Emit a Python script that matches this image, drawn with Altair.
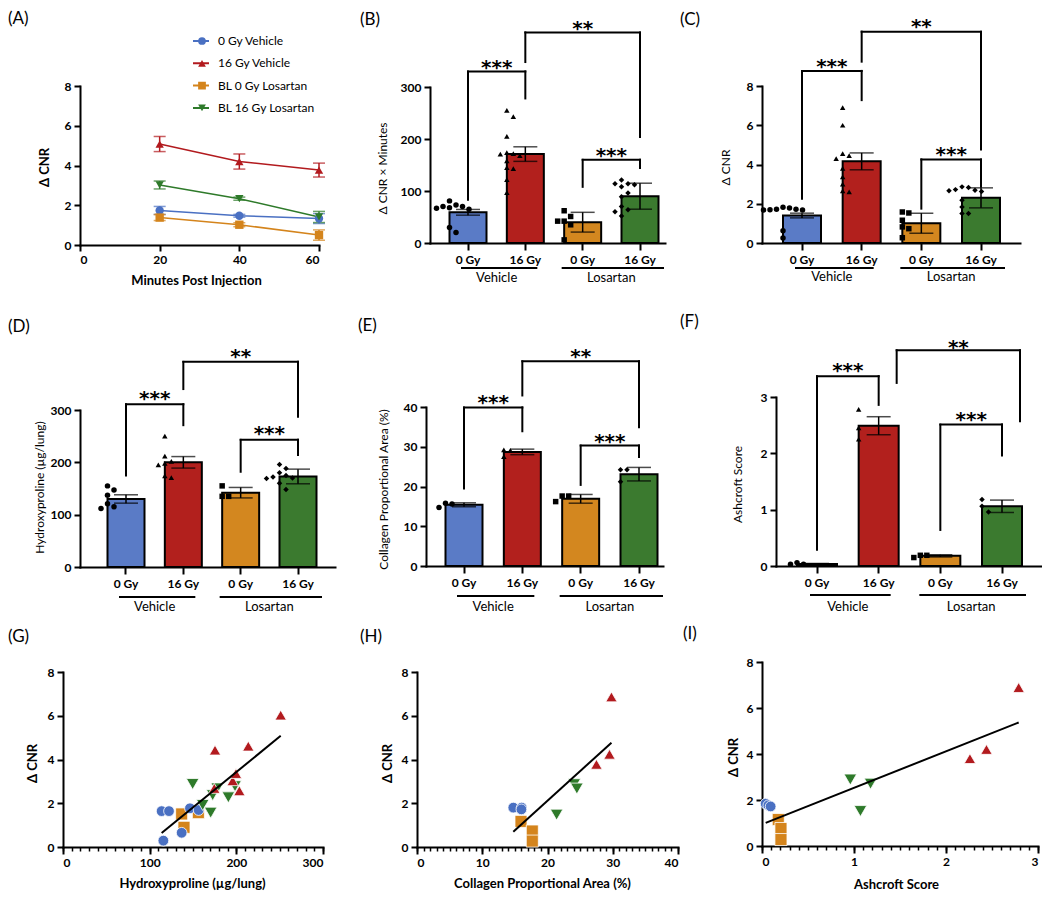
import altair as alt
import pandas as pd

FONT = "Lato"
STAR_FONT = "DejaVu Sans"

# ---------------- shared categories / styles ----------------
CATS = ["V0", "V16", "L0", "L16"]
TICK_LABELS = ["0 Gy", "16 Gy", "0 Gy", "16 Gy"]
GROUP_LABELS = ["Vehicle", "Losartan"]
BAR_COLORS = ["#5a7bc6", "#b2201d", "#d3871f", "#3b7a2f"]
BAR_SHAPES = ["circle", "triangle-up", "square", "diamond"]

SERIES = ["0 Gy Vehicle", "16 Gy Vehicle", "BL 0 Gy Losartan", "BL  16 Gy Losartan"]
SERIES_COLORS = ["#4a70c2", "#b21a1e", "#d4841c", "#2e7a2a"]
SERIES_SHAPES = ["circle", "triangle-up", "square", "triangle-down"]

# ---------------- (A) time course ----------------
A_MINUTES = [20, 40, 60]
A_V0 = [1.74, 1.47, 1.33]
A_V0_ERR = [0.20, 0.07, 0.25]
A_V16 = [5.08, 4.20, 3.77]
A_V16_ERR = [0.38, 0.38, 0.35]
A_L0 = [1.38, 1.02, 0.50]
A_L0_ERR = [0.15, 0.10, 0.26]
A_L16 = [3.02, 2.33, 1.41]
A_L16_ERR = [0.20, 0.08, 0.28]

# ---------------- (B) dCNR x minutes ----------------
B_MEANS = [59, 171, 40, 90]
B_ERR = [5.5, 14, 19, 25]
B_V0 = [81, 73, 70, 70, 68, 67, 65, 30, 20]
B_V16 = [255, 243, 205, 172, 171, 174, 168, 158, 143, 145, 122, 97]
B_L0 = [62, 51, 42, 42, 35, 6]
B_L16 = [121, 114, 114, 112, 108, 96, 89, 70, 64, 60, 52]

# ---------------- (C) dCNR ----------------
C_MEANS = [1.40, 4.16, 1.01, 2.30]
C_ERR = [0.12, 0.43, 0.51, 0.51]
C_V0 = [1.82, 1.72, 1.68, 1.68, 1.70, 1.78, 1.72, 0.62, 0.25]
C_V16 = [6.9, 6.0, 4.45, 4.56, 4.3, 3.8, 3.37, 3.0, 2.6, 2.65]
C_L0 = [1.53, 1.58, 1.16, 0.82, 0.73, 0.27]
C_L16 = [2.83, 2.66, 2.62, 2.69, 2.72, 2.86, 2.18, 1.84, 1.5, 1.5]

# ---------------- (D) hydroxyproline ----------------
D_MEANS = [130, 200, 142, 173]
D_ERR = [8, 11, 10, 14]
D_V0 = [155, 147, 137, 112, 121, 115]
D_V16 = [250, 212, 202, 195, 198, 171, 174]
D_L0 = [155, 135, 135]
D_L16 = [196, 188, 180, 175, 172, 170, 169, 160, 148]

# ---------------- (E) collagen area ----------------
E_MEANS = [15.4, 28.7, 16.9, 23.1]
E_ERR = [0.5, 0.7, 1.1, 1.7]
E_V0 = [14.7, 15.8, 15.6]
E_V16 = [29.2, 29.1, 27.5]
E_L0 = [17.6, 17.6, 16.2]
E_L16 = [24.2, 24.2, 21.2]

# ---------------- (F) Ashcroft ----------------
F_MEANS = [0.035, 2.49, 0.18, 1.06]
F_ERR = [0.01, 0.16, 0.02, 0.11]
F_V0 = [0.03, 0.06, 0.03]
F_V16 = [2.78, 2.45, 2.25]
F_L0 = [0.15, 0.19, 0.19]
F_L16 = [1.18, 1.06, 0.96]

# brackets: (left idx, right idx, top, left end, right end, text, text y, px shift)
B_BR = [(0, 1, 330, 83, 278, "***", 349, 0), (1, 3, 405, 348, 204, "**", 424, 0), (2, 3, 160, 108, 144, "***", 179, 0)]
C_BR = [(0, 1, 8.77, 2.26, 7.28, "***", 9.28, 0), (1, 3, 10.77, 9.24, 4.77, "**", 11.3, 0), (2, 3, 4.26, 1.75, 2.86, "***", 4.77, 0)]
D_BR = [(0, 1, 311, 175, 271, "***", 332, 0), (1, 3, 392, 340, 287, "**", 412, 0), (2, 3, 243, 182, 214, "***", 265, 0)]
E_BR = [(0, 1, 39.9, 19.5, 33.9, "***", 42.5, 0), (1, 3, 51.5, 42.9, 34.9, "**", 54.1, 0), (2, 3, 30.3, 20.4, 27.4, "***", 32.8, 0)]
F_BR = [(0, 1, 3.37, 0.29, 2.86, "***", 3.56, 0), (1, 3, 3.83, 3.25, 2.57, "**", 3.97, 18), (2, 3, 2.51, 0.64, 1.96, "***", 2.70, 0)]

# ---------------- (G) dCNR vs hydroxyproline ----------------
G_X = {"V0": [113.8, 122.3, 146.5, 156.5, 115.8, 136.9],
       "L0": [136.9, 139.6, 156.2],
       "L16": [149.6, 172.7, 178.0, 161.2, 170.4, 190.8, 198.5],
       "V16": [175.4, 174.6, 195.8, 199.6, 203.5, 213.8, 251.2]}
G_Y = {"V0": [1.64, 1.64, 1.77, 1.69, 0.29, 0.65],
       "L0": [1.51, 0.90, 1.57],
       "L16": [2.88, 2.37, 2.68, 1.92, 1.57, 2.27, 2.78],
       "V16": [4.43, 2.68, 3.03, 3.36, 2.57, 4.61, 6.03]}
# ---------------- (H) dCNR vs collagen area ----------------
H_X = {"V0": [14.76, 16.04, 16.0], "L0": [15.94, 17.67, 17.67],
       "L16": [21.4, 24.1, 24.5], "V16": [27.5, 29.5, 29.8]}
H_Y = {"V0": [1.80, 1.80, 1.72], "L0": [1.17, 0.73, 0.27],
       "L16": [1.48, 2.87, 2.67], "V16": [3.78, 4.24, 6.86]}
# ---------------- (I) dCNR vs Ashcroft ----------------
I_X = {"V0": [0.04, 0.069, 0.094], "L0": [0.177, 0.206, 0.206],
       "L16": [0.96, 1.18, 1.07], "V16": [2.26, 2.44, 2.79]}
I_Y = {"V0": [1.84, 1.77, 1.72], "L0": [1.15, 0.76, 0.28],
       "L16": [2.89, 2.71, 1.52], "V16": [3.80, 4.20, 6.89]}

ONE = pd.DataFrame({"k": [0]})

# page-space grid of cells (left, right) / (top, bottom)
COLS = [(8, 350), (350, 672), (672, 1042)]
ROWS = [(8, 300), (300, 618), (618, 890)]


def cell(r, c):
    return (COLS[c][0], ROWS[r][0], COLS[c][1], ROWS[r][1])


def label_layer(cl, ct, label, xy):
    return alt.Chart(ONE).mark_text(text=label, align="left", baseline="top", font=FONT,
                                    fontSize=17, color="black").encode(
        x=alt.value(xy[0] - cl), y=alt.value(xy[1] - ct))


def swarm(values, ppu, diam=6.5, step=6.5):
    offs = [0.0] * len(values)
    placed = []
    cands = [0.0]
    for j in range(1, 30):
        cands += [j * step, -j * step]
    for i in sorted(range(len(values)), key=lambda k: -values[k]):
        yp = values[i] * ppu
        for c in cands:
            if all((c - px) ** 2 + (yp - py) ** 2 >= diam ** 2 - 1e-9 for px, py in placed):
                offs[i] = c
                placed.append((c, yp))
                break
    return offs


def bar_panel(c):
    CL, CT, CR, CB = c["cell"]
    L, R, PT, PB = c["L"], c["R"], c["PT"], c["PB"]
    H = PB - PT
    cen, bw = c["centers"], c["bw"]
    step = (cen[-1] - cen[0]) / 3.0
    left = cen[0] - bw / 2 - L
    right = R - (cen[-1] + bw / 2)
    xscale = alt.Scale(domain=CATS, range=[L - CL, R - CL], paddingInner=1 - bw / step,
                       paddingOuter=(left + right) / (2 * step), align=left / (left + right))
    label_expr = " : ".join(f"datum.value == '{k}' ? '{t}'" for k, t in zip(CATS, TICK_LABELS)) + " : ''"
    xaxis = alt.Axis(title=None, labelExpr=label_expr, labelAngle=0, tickSize=7, labelPadding=4,
                     labelFontSize=12, labelFontWeight="bold", offset=-(CB - PB))

    def X(f, **kw):
        return alt.X(f"{f}:N", scale=xscale, axis=xaxis, **kw)

    ymax = c["ymax"]
    yticks = [i * c["ystep"] for i in range(int(round(ymax / c["ystep"])) + 1)]
    yscale = alt.Scale(domain=[0, ymax], range=[PB - CT, PT - CT], nice=False)
    tx, ty = c["ytitle_c"]
    yaxis = alt.Axis(values=yticks, title=c["ytitle"], titleX=tx - L, titleY=ty - CT, titleAngle=-90,
                     titleAlign="center", titleBaseline="middle", titleFontWeight="normal",
                     titleFontSize=12, tickSize=6, labelPadding=3, offset=-(L - CL))

    def Y(f):
        return alt.Y(f"{f}:Q", scale=yscale, axis=yaxis)

    means, errs = c["means"], c["errs"]
    bdf = pd.DataFrame({"cat": CATS, "y": means,
                        "lo": [m - e for m, e in zip(means, errs)],
                        "hi": [m + e for m, e in zip(means, errs)]})
    layers = [label_layer(CL, CT, c["label"], c["label_xy"])]
    layers.append(alt.Chart(bdf).mark_bar(stroke="black", strokeWidth=2).encode(
        x=X("cat"), y=Y("y"),
        color=alt.Color("cat:N", scale=alt.Scale(domain=CATS, range=BAR_COLORS), legend=None)))

    ppu = H / ymax
    rows = []
    for cat, vals in zip(CATS, c["pts"]):
        for v, o in zip(vals, swarm(vals, ppu)):
            rows.append({"cat": cat, "y": v, "jit": o})
    pdf = pd.DataFrame(rows)
    layers.append(alt.Chart(pdf).mark_point(filled=True, color="black", size=30, opacity=1).encode(
        x=X("cat", bandPosition=0.5), y=Y("y"),
        xOffset=alt.XOffset("jit:Q", scale=None),
        shape=alt.Shape("cat:N", scale=alt.Scale(domain=CATS, range=BAR_SHAPES), legend=None)))

    layers.append(alt.Chart(bdf).mark_errorbar(color="black", thickness=1.5,
                                               ticks={"size": 24, "thickness": 1.5, "color": "black"})
                  .encode(x=X("cat"), y=Y("lo"), y2=alt.Y2("hi:Q")))

    for (iL, iR, top, yl, yr, txt, yt, sh) in c["brackets"]:
        sdf = pd.DataFrame({"c1": [CATS[iL], CATS[iL], CATS[iR]],
                            "c2": [CATS[iR], CATS[iL], CATS[iR]],
                            "y": [top, yl, yr], "y2": [top, top, top]})
        layers.append(alt.Chart(sdf).mark_rule(color="black", strokeWidth=2, strokeCap="square",
                                               xOffset=sh, x2Offset=sh)
                      .encode(x=X("c1", bandPosition=0.5), x2=alt.X2("c2:N"), y=Y("y"), y2=alt.Y2("y2:Q")))
        tdf = pd.DataFrame({"c": [CATS[iL]], "y": [yt]})
        layers.append(alt.Chart(tdf).mark_text(text=txt, font=STAR_FONT, fontSize=20, fontWeight="bold",
                                               baseline="alphabetic", dy=12, color="black",
                                               xOffset=(iR - iL) * step / 2 + sh)
                      .encode(x=X("c", bandPosition=0.5), y=Y("y")))

    for gi, (a, b, o1, o2) in enumerate([(0, 1, -7, 12), (2, 3, -21, 24)]):
        udf = pd.DataFrame({"c1": [CATS[a]], "c2": [CATS[b]], "t": [GROUP_LABELS[gi]]})
        layers.append(alt.Chart(udf).mark_rule(color="black", strokeWidth=1.8, xOffset=o1, x2Offset=o2)
                      .encode(x=X("c1", bandPosition=0.5), x2=alt.X2("c2:N"),
                              y=alt.value(PB - CT + c["ul_dy"])))
        layers.append(alt.Chart(udf).mark_text(font=FONT, fontSize=13, baseline="middle", color="black",
                                               xOffset=step / 2)
                      .encode(x=X("c1", bandPosition=0.5), y=alt.value(PB - CT + c["tx_dy"]), text="t:N"))
    return alt.layer(*layers).properties(width=CR - CL, height=CB - CT)


def scatter_panel(c):
    CL, CT, CR, CB = c["cell"]
    L, R, PT, PB = c["L"], c["R"], c["PT"], c["PB"]
    rows = []
    for g in ["L0", "V0", "L16", "V16"]:
        for x, y in zip(c["xs"][g], c["ys"][g]):
            rows.append({"g": g, "x": x, "y": y})
    df = pd.DataFrame(rows)
    xscale = alt.Scale(domain=[0, c["xmax"]], range=[L - CL, R - CL], nice=False)
    yscale = alt.Scale(domain=[0, 8], range=[PB - CT, PT - CT], nice=False)
    tx, ty = c["ytitle_c"]
    yaxis = alt.Axis(values=[0, 2, 4, 6, 8], title="Δ CNR", titleX=tx - L, titleY=ty - CT, titleAngle=-90,
                     titleAlign="center", titleBaseline="middle", titleFontWeight="bold",
                     titleFontSize=13, tickSize=6, labelPadding=3, offset=-(L - CL))
    xx, xy = c["xtitle_c"]
    xmajor = alt.Axis(values=c["xticks"], title=c["xtitle"], titleX=xx - CL, titleY=xy - PB,
                      titleAlign="center", titleBaseline="middle", titleFontWeight="bold",
                      titleFontSize=13, tickSize=7, labelPadding=3, orient="bottom", offset=-(CB - PB))
    n = int(round(c["xmax"] / c["minor"]))
    xminor = alt.Axis(values=[round(i * c["minor"], 6) for i in range(n + 1)], labels=False, domain=False,
                      tickSize=4, tickWidth=1.5, title=None, orient="bottom", offset=-(CB - PB))
    layers = [label_layer(CL, CT, c["label"], c["label_xy"])]
    layers.append(alt.Chart(df).mark_point(filled=True, opacity=1, stroke="white", strokeWidth=0.8).encode(
        x=alt.X("x:Q", scale=xscale, axis=xmajor),
        y=alt.Y("y:Q", scale=yscale, axis=yaxis),
        color=alt.Color("g:N", scale=alt.Scale(domain=CATS, range=SERIES_COLORS), legend=None),
        shape=alt.Shape("g:N", scale=alt.Scale(domain=CATS, range=SERIES_SHAPES), legend=None),
        size=alt.Size("g:N", scale=alt.Scale(domain=CATS, range=[115, 160, 100, 160]), legend=None)))
    layers.append(alt.Chart(df).transform_regression("x", "y").mark_line(color="black", strokeWidth=2).encode(
        x=alt.X("x:Q", scale=xscale, axis=xminor),
        y=alt.Y("y:Q", scale=yscale, axis=yaxis)))
    return alt.layer(*layers).resolve_axis(x="independent").properties(width=CR - CL, height=CB - CT)


def panel_a():
    CL, CT, CR, CB = cell(0, 0)
    L, R, PT, PB = 80, 319, 86, 245
    rows = []
    for s, m, e in zip(SERIES, [A_V0, A_V16, A_L0, A_L16], [A_V0_ERR, A_V16_ERR, A_L0_ERR, A_L16_ERR]):
        for t, mv, ev in zip(A_MINUTES, m, e):
            rows.append({"series": s, "min": t, "y": mv, "lo": mv - ev, "hi": mv + ev})
    df = pd.DataFrame(rows)
    xscale = alt.Scale(domain=[0, 60], range=[L - CL, R - CL], nice=False)
    yscale = alt.Scale(domain=[0, 8], range=[PB - CT, PT - CT], nice=False)
    xaxis = alt.Axis(values=[0, 20, 40, 60], title="Minutes Post Injection", titleX=196 - CL, titleY=280 - PB,
                     titleAlign="center", titleBaseline="middle", titleFontWeight="bold",
                     titleFontSize=13, tickSize=6, labelPadding=3, offset=-(CB - PB))
    yaxis = alt.Axis(values=[0, 2, 4, 6, 8], title="Δ CNR", titleX=44 - L, titleY=167 - CT, titleAngle=-90,
                     titleAlign="center", titleBaseline="middle", titleFontWeight="bold",
                     titleFontSize=13, tickSize=6, labelPadding=3, offset=-(L - CL))
    X = alt.X("min:Q", scale=xscale, axis=xaxis)
    cscale = alt.Scale(domain=SERIES, range=SERIES_COLORS)
    lx, ly = 192 - CL, 33 - CT
    leg_line = alt.Legend(orient="none", legendX=lx, legendY=ly, title=None, symbolType="stroke",
                          symbolSize=256, symbolStrokeWidth=2, labelFont=FONT, labelFontSize=12,
                          labelColor="black", clipHeight=16, rowPadding=6.3, labelOffset=8, padding=0)
    leg_pt = alt.Legend(orient="none", legendX=lx + 4, legendY=ly, title=None, symbolSize=60,
                        symbolStrokeWidth=0, labelOpacity=0, labelFont=FONT, labelFontSize=12,
                        clipHeight=16, rowPadding=6.3, labelOffset=8, padding=0)
    layers = [label_layer(CL, CT, "(A)", (8, 11))]
    layers.append(alt.Chart(df).mark_line(strokeWidth=1.5).encode(
        x=X, y=alt.Y("y:Q", scale=yscale, axis=yaxis),
        color=alt.Color("series:N", scale=cscale, legend=leg_line)))
    layers.append(alt.Chart(df).mark_errorbar(thickness=1.5, ticks={"size": 12, "thickness": 1.5}).encode(
        x=X, y=alt.Y("lo:Q", scale=yscale, axis=yaxis), y2=alt.Y2("hi:Q"),
        color=alt.Color("series:N", scale=cscale, legend=None)))
    layers.append(alt.Chart(df).mark_point(filled=True, size=70, opacity=1).encode(
        x=X, y=alt.Y("y:Q", scale=yscale, axis=yaxis),
        color=alt.Color("series:N", scale=cscale, legend=leg_pt),
        shape=alt.Shape("series:N", scale=alt.Scale(domain=SERIES, range=SERIES_SHAPES), legend=leg_pt)))
    return alt.layer(*layers).resolve_legend(color="independent", shape="independent").properties(
        width=CR - CL, height=CB - CT)


pA = panel_a()
pB = bar_panel(dict(L=430, R=665, PT=87, PB=243, centers=[468, 525, 583, 640], bw=37, ymax=300, ystep=100,
                    means=B_MEANS, errs=B_ERR, pts=[B_V0, B_V16, B_L0, B_L16], brackets=B_BR,
                    ytitle="Δ CNR × Minutes", ytitle_c=(382, 168), cell=cell(0, 1),
                    label="(B)", label_xy=(360, 12), ul_dy=25, tx_dy=35))
pC = bar_panel(dict(L=762, R=1020, PT=86, PB=243, centers=[802, 861, 921, 981], bw=38, ymax=8, ystep=2,
                    means=C_MEANS, errs=C_ERR, pts=[C_V0, C_V16, C_L0, C_L16], brackets=C_BR,
                    ytitle="Δ CNR", ytitle_c=(725, 167), cell=cell(0, 2),
                    label="(C)", label_xy=(680, 12), ul_dy=25, tx_dy=34))
pD = bar_panel(dict(L=80, R=335, PT=410, PB=567, centers=[126, 183, 241, 298], bw=37, ymax=300, ystep=100,
                    means=D_MEANS, errs=D_ERR, pts=[D_V0, D_V16, D_L0, D_L16], brackets=D_BR,
                    ytitle="Hydroxyproline (µg/lung)", ytitle_c=(39, 487), cell=cell(1, 0),
                    label="(D)", label_xy=(8, 319), ul_dy=30, tx_dy=40))
pE = bar_panel(dict(L=426, R=663, PT=407, PB=566, centers=[464, 522, 582, 639], bw=37, ymax=40, ystep=10,
                    means=E_MEANS, errs=E_ERR, pts=[E_V0, E_V16, E_L0, E_L16], brackets=E_BR,
                    ytitle="Collagen Proportional Area (%)", ytitle_c=(383, 489), cell=cell(1, 1),
                    label="(E)", label_xy=(358, 318), ul_dy=30, tx_dy=41))
pF = bar_panel(dict(L=776, R=1041, PT=397, PB=566, centers=[817, 878, 940, 1002], bw=40, ymax=3, ystep=1,
                    means=F_MEANS, errs=F_ERR, pts=[F_V0, F_V16, F_L0, F_L16], brackets=F_BR,
                    ytitle="Ashcroft Score", ytitle_c=(737, 484), cell=cell(1, 2),
                    label="(F)", label_xy=(680, 314), ul_dy=29, tx_dy=41))
pG = scatter_panel(dict(L=63, R=323, PT=672, PB=847, xmax=300, xticks=[0, 100, 200, 300], minor=10,
                        xs=G_X, ys=G_Y, xtitle="Hydroxyproline (µg/lung)", xtitle_c=(192, 883),
                        ytitle_c=(32, 763), cell=cell(2, 0), label="(G)", label_xy=(8, 629)))
pH = scatter_panel(dict(L=417, R=678, PT=672, PB=847, xmax=40, xticks=[0, 10, 20, 30, 40], minor=1,
                        xs=H_X, ys=H_Y, xtitle="Collagen Proportional Area (%)", xtitle_c=(542, 883),
                        ytitle_c=(387, 763), cell=cell(2, 1), label="(H)", label_xy=(360, 629)))
pI = scatter_panel(dict(L=762, R=1038, PT=662, PB=846, xmax=3, xticks=[0, 1, 2, 3], minor=0.1,
                        xs=I_X, ys=I_Y, xtitle="Ashcroft Score", xtitle_c=(896, 884),
                        ytitle_c=(733, 757), cell=cell(2, 2), label="(I)", label_xy=(683, 626)))

chart = alt.concat(pA, pB, pC, pD, pE, pF, pG, pH, pI, columns=3, spacing=0, align="each", bounds="flush"
                   ).resolve_scale(color="independent", shape="independent", size="independent"
                   ).resolve_legend(color="independent", shape="independent", size="independent"
                   ).properties(padding=0, background="white"
                   ).configure_view(stroke=None
                   ).configure_axis(grid=False, domainColor="black", tickColor="black", labelColor="black",
                                    titleColor="black", labelFont=FONT, titleFont=FONT, domainWidth=2,
                                    tickWidth=2, labelFontWeight="bold", labelFontSize=12, domainCap="square")

chart.save("out.html", embed_options={"renderer": "svg", "actions": False})
